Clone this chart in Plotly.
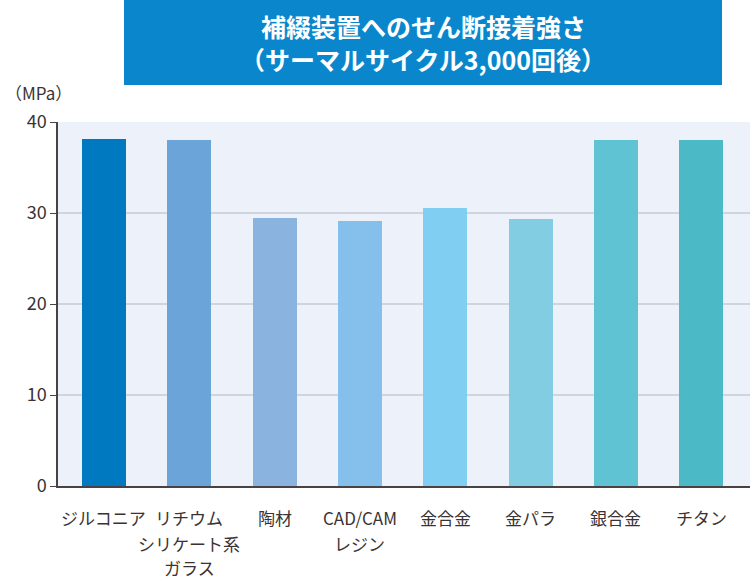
import plotly.graph_objects as go

categories = ["ジルコニア", "リチウム<br>シリケート系<br>ガラス", "陶材", "CAD/CAM<br>レジン",
              "金合金", "金パラ", "銀合金", "チタン"]
values = [38.1, 38.0, 29.45, 29.1, 30.5, 29.3, 38.0, 38.0]
bar_colors = ["#0079c1", "#6aa4d8", "#8ab3e0", "#85bfeb", "#80cff3", "#83cde3", "#5fc3d3", "#4bb9c6"]
y_ticks = [0, 10, 20, 30, 40]
title_lines = ["補綴装置へのせん断接着強さ", "（サーマルサイクル3,000回後）"]
unit_label = "（MPa）"

FONT = "Noto Sans CJK JP"
TXT = "#3b3333"

x_idx = list(range(len(categories)))

fig = go.Figure()
fig.add_trace(go.Bar(x=x_idx, y=values, marker=dict(color=bar_colors, line=dict(width=0)),
                     width=0.516, hoverinfo="skip"))

W, H = 750, 580
ml, mr, mt, mb = 58, 0, 122, 94
pw = W - ml - mr
ph = H - mt - mb

annotations = []
line_offsets = [-31, -57, -81]
for i, cat in enumerate(categories):
    for j, line in enumerate(cat.split("<br>")):
        annotations.append(dict(x=i, xref="x", y=0, yref="paper", text=line, showarrow=False,
                                yanchor="middle", xanchor="center", yshift=line_offsets[j],
                                font=dict(family=FONT, size=17, color=TXT)))

# title box text
title_centers = [26, 59]
for j, line in enumerate(title_lines):
    annotations.append(dict(x=((124 + 722) / 2 - ml) / pw, xref="paper", y=1, yref="paper",
                            yshift=mt - title_centers[j], text="<b>" + line + "</b>", showarrow=False,
                            xanchor="center", yanchor="middle",
                            font=dict(family=FONT, size=25, color="white")))

annotations.append(dict(x=(3 - ml) / pw, xref="paper", y=1, yref="paper",
                        yshift=mt - 92, text=unit_label, showarrow=False, xanchor="left",
                        yanchor="middle", font=dict(family=FONT, size=17, color=TXT)))

shapes = [dict(type="rect", xref="paper", yref="paper",
               x0=(124 - ml) / pw, x1=(722 - ml) / pw,
               y0=1 + (mt - 85) / ph, y1=1 + mt / ph,
               fillcolor="#0a87cc", line=dict(width=0), layer="above")]

fig.update_layout(
    width=W, height=H,
    margin=dict(l=ml, r=mr, t=mt, b=mb, pad=0),
    paper_bgcolor="white", plot_bgcolor="#edf1fa",
    showlegend=False, bargap=0,
    font=dict(family=FONT, color=TXT),
    xaxis=dict(range=[-0.539, 7.573], showticklabels=False, showgrid=False, zeroline=False,
               showline=True, linecolor="#4a4242", linewidth=1.5, ticks="", fixedrange=True),
    yaxis=dict(range=[0, 40], tickvals=y_ticks, showgrid=True, gridcolor="#cfd4df", gridwidth=2,
               zeroline=False, showline=True, linecolor="#4a4242", linewidth=1.5,
               ticks="outside", ticklen=6, tickcolor="#4a4242", tickwidth=1.2,
               tickfont=dict(family=FONT, size=18, color=TXT), fixedrange=True),
    annotations=annotations, shapes=shapes,
)

fig.write_html("out.html")
